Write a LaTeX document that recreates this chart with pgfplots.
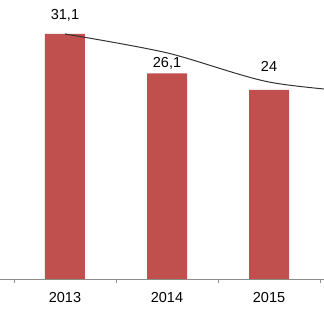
\documentclass[border=0pt]{standalone}
\usepackage{pgfplots}
\pgfplotsset{compat=1.18}
\usepackage{fontspec}
\setmainfont{Liberation Sans}
\definecolor{barred}{HTML}{C0504D}
\definecolor{axgray}{HTML}{8C8C8C}
\begin{document}
\fontsize{14.5}{17}\selectfont
\begin{tikzpicture}
\begin{axis}[
  name=ax,
  at={(0,0)}, anchor=south west,
  scale only axis,
  width=324pt, height=279pt,
  xmin=-0.637, xmax=2.539,
  ymin=0, ymax=35.41,
  axis x line=bottom,
  axis y line=none,
  axis line style={axgray, line width=0.8pt, -},
  xtick={0,1,2},
  xticklabels={2013,2014,2015},
  major tick length=0pt,
  minor xtick={-0.5,0.5,1.5,2.5},
  minor tick length=4pt,
  tick align=outside,
  minor tick style={axgray, line width=0.8pt},
  x tick label style={font=\fontsize{14.5}{17}\selectfont, yshift=-8pt},
  /pgf/number format/assume math mode=true,
  clip=true,
]
\addplot[ybar, bar width=40pt, fill=barred, draw=none] coordinates {(0,31.1) (1,26.1) (2,24.0)};
\addplot[black!80, line width=1pt, smooth, tension=0.5] coordinates {(0,31.1) (1,28.7) (2,25.0) (3,23.6)};
\node[font=\fontsize{14.5}{17}\selectfont] at (axis cs:0,33.4) {31,1};
\node[font=\fontsize{14.5}{17}\selectfont] at (axis cs:1,27.4) {26,1};
\node[font=\fontsize{14.5}{17}\selectfont] at (axis cs:2,27.0) {24};
\end{axis}
\pgfresetboundingbox
\path[use as bounding box] (ax.south west) ++(0,-36pt) rectangle (ax.north east);
\end{tikzpicture}
\end{document}
